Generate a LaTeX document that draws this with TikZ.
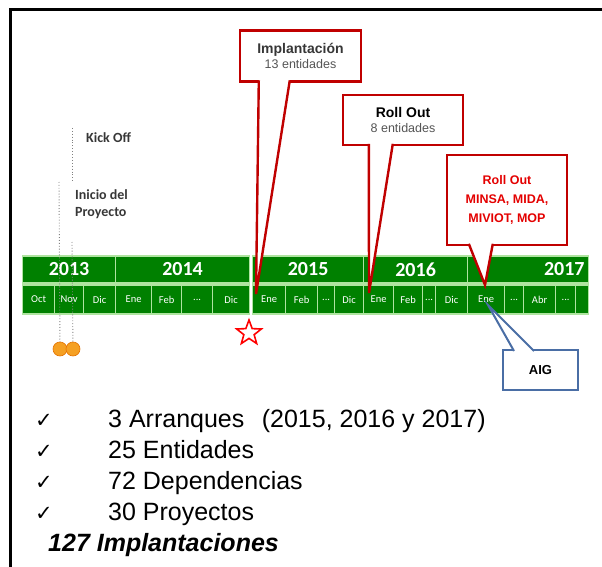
\documentclass[tikz,border=0pt]{standalone}
\usepackage{fontspec}
\setmainfont{Liberation Sans}
\newfontfamily\carlito{Carlito}
\newfontfamily\dejavu{DejaVu Sans}
\usetikzlibrary{shapes.geometric}

\definecolor{barGreen}{RGB}{0,128,0}
\definecolor{cellLine}{RGB}{175,228,160}
\definecolor{calloutRed}{RGB}{192,0,0}
\definecolor{textRed}{RGB}{228,0,0}
\definecolor{aigBlue}{RGB}{74,110,165}
\definecolor{dotOrange}{RGB}{245,160,35}
\definecolor{darkText}{RGB}{55,55,55}
\definecolor{grayText}{RGB}{85,85,85}

\tikzstyle{yearcell}=[draw=cellLine,line width=1.2pt,fill=barGreen,text=white,inner sep=0pt,anchor=west,minimum height=27pt,font=\carlito\bfseries\fontsize{20}{20}\selectfont]
\tikzstyle{monthcell}=[yearcell,minimum height=29pt,font=\carlito\fontsize{10.5}{10.5}\selectfont]
\tikzstyle{callout}=[draw=calloutRed,line width=2.4pt,fill=white,inner sep=0pt,align=center]
\tikzstyle{pointer}=[draw=calloutRed,line width=2.4pt]
\tikzstyle{dotline}=[gray,dotted,line width=0.9pt]
\tikzstyle{milestone}=[font=\carlito\bfseries\fontsize{14}{17}\selectfont,text=darkText,anchor=west,align=left,inner sep=0pt]
\tikzstyle{tick}=[font=\dejavu\fontsize{21}{21}\selectfont,anchor=base west,inner sep=0pt]
\tikzstyle{item}=[font=\fontsize{25}{25}\selectfont,anchor=base west,inner sep=0pt]

\begin{document}
\begin{tikzpicture}[x=1pt,y=-1pt]
\useasboundingbox (0,0) rectangle (602,567);
% frame
\draw[line width=3pt] (602,9.5) -- (10.5,9.5) -- (10.5,567);
% 2013
\node[yearcell,minimum width=93pt] (y2013) at (22,269.5) {2013};
\node[monthcell,minimum width=32pt] (oct13) at (22,299.5) {Oct};
\node[monthcell,minimum width=29pt] (nov13) at (54,299.5) {Nov};
\node[monthcell,minimum width=32pt] (dic13) at (83,299.5) {Dic};
% 2014
\node[yearcell,minimum width=134pt] (y2014) at (115,269.5) {2014};
\node[monthcell,minimum width=36pt] (ene14) at (115,299.5) {Ene};
\node[monthcell,minimum width=30pt] (feb14) at (151,299.5) {Feb};
\node[monthcell,minimum width=31pt] (dots14) at (181,299.5) {...};
\node[monthcell,minimum width=37pt] (dic14) at (212,299.5) {Dic};
% 2015
\node[yearcell,minimum width=111pt] (y2015) at (252,269.5) {2015};
\node[monthcell,minimum width=33pt] (ene15) at (252,299.5) {Ene};
\node[monthcell,minimum width=32pt] (feb15) at (285,299.5) {Feb};
\node[monthcell,minimum width=17pt] (dots15) at (317,299.5) {...};
\node[monthcell,minimum width=29pt] (dic15) at (334,299.5) {Dic};
% 2016
\node[yearcell,minimum width=104pt] (y2016) at (363,269.5) {2016};
\node[monthcell,minimum width=30pt] (ene16) at (363,299.5) {Ene};
\node[monthcell,minimum width=29pt] (feb16) at (393,299.5) {Feb};
\node[monthcell,minimum width=13pt] (dots16) at (422,299.5) {...};
\node[monthcell,minimum width=32pt] (dic16) at (435,299.5) {Dic};
% 2017
\node[yearcell,minimum width=121pt,text width=113pt,align=right] (y2017) at (467,269.5) {2017};
\node[monthcell,minimum width=37pt] (ene17) at (467,299.5) {Ene};
\node[monthcell,minimum width=19pt] (dots17a) at (504,299.5) {...};
\node[monthcell,minimum width=32pt] (abr17) at (523,299.5) {Abr};
\node[monthcell,minimum width=20pt] (dots17b) at (555,299.5) {...};
\node[monthcell,minimum width=13pt] (more17) at (575,299.5) {};
% kick off and project start
\node[milestone] (kick) at (86,138) {Kick Off};
\node[milestone] (inicio) at (75,204) {Inicio del\\Proyecto};
\coordinate (kick_top) at (72,128);
\coordinate (kick_gap1) at (72,182);
\coordinate (kick_gap2) at (72,242);
\coordinate (inicio_top) at (59,182);
\coordinate (kick_pos) at (73,349);
\coordinate (inicio_pos) at (60,349);
\draw[dotline] (kick_top) -- (kick_gap1);
\draw[dotline] (kick_gap2) -- (kick_pos);
\draw[dotline] (inicio_top) -- (inicio_pos);
\node[circle,fill=dotOrange,draw=orange!90!black,line width=0.6pt,minimum size=14pt,inner sep=0pt] (inicio_dot) at (inicio_pos) {};
\node[circle,fill=dotOrange,draw=orange!90!black,line width=0.6pt,minimum size=14pt,inner sep=0pt] (kick_dot) at (kick_pos) {};
% star
\node[star,star points=5,star point ratio=2.4,draw=red,fill=white,line width=1.6pt,minimum size=26pt,inner sep=0pt] (star15) at (249,333) {};
% callout Implantacion
\node[callout,minimum width=121pt,minimum height=51pt] (impl) at (300.5,56)
    {{\bfseries\fontsize{14}{18}\selectfont\color{darkText}Implantación}\\[3pt]
     {\fontsize{12.5}{14}\selectfont\color{grayText}13 entidades}};
\coordinate (impl_tip) at (256,294);
\fill[white] ([xshift=20pt,yshift=3pt]impl.south west) -- (impl_tip) -- ([xshift=51pt,yshift=3pt]impl.south west) -- cycle;
\draw[pointer] ([xshift=20pt,yshift=2.4pt]impl.south west) -- (impl_tip) -- ([xshift=51pt,yshift=2.4pt]impl.south west);
% callout Roll Out 2016
\node[callout,minimum width=120pt,minimum height=50pt] (roll1) at (403,120)
    {{\bfseries\fontsize{14}{18}\selectfont Roll Out}\\[3pt]
     {\fontsize{12.5}{14}\selectfont\color{grayText}8 entidades}};
\coordinate (roll1_tip) at (369,293);
\fill[white] ([xshift=27pt,yshift=3pt]roll1.south west) -- (roll1_tip) -- ([xshift=51pt,yshift=3pt]roll1.south west) -- cycle;
\draw[pointer] ([xshift=27pt,yshift=2.4pt]roll1.south west) -- (roll1_tip) -- ([xshift=51pt,yshift=2.4pt]roll1.south west);
% callout Roll Out 2017
\node[callout,minimum width=120pt,minimum height=90pt,text=textRed,font=\bfseries\fontsize{12.5}{19}\selectfont] (roll2) at (507,200)
    {Roll Out\\MINSA, MIDA,\\MIVIOT, MOP};
\coordinate (roll2_tip) at (485,285);
\fill[white] ([xshift=23pt,yshift=3pt]roll2.south west) -- (roll2_tip) -- ([xshift=47pt,yshift=3pt]roll2.south west) -- cycle;
\draw[pointer] ([xshift=23pt,yshift=2.4pt]roll2.south west) -- (roll2_tip) -- ([xshift=47pt,yshift=2.4pt]roll2.south west);
% callout AIG
\node[callout,draw=aigBlue,line width=2pt,minimum width=75pt,minimum height=40pt,font=\bfseries\fontsize{13}{15}\selectfont] (aig) at (540.5,370) {AIG};
\coordinate (aig_tip) at (488,305);
\fill[white] ([xshift=12pt,yshift=-3pt]aig.north west) -- (aig_tip) -- ([xshift=32pt,yshift=-3pt]aig.north west) -- cycle;
\draw[pointer,draw=aigBlue,line width=2pt] ([xshift=12pt,yshift=-2pt]aig.north west) -- (aig_tip) -- ([xshift=32pt,yshift=-2pt]aig.north west);
% summary
\node[tick] (tick1) at (35,427) {✓};
\node[item] (item1) at (108,427) {3 Arranques\hspace{0.7em}(2015, 2016 y 2017)};
\node[tick] (tick2) at (35,458) {✓};
\node[item] (item2) at (108,458) {25 Entidades};
\node[tick] (tick3) at (35,489) {✓};
\node[item] (item3) at (108,489) {72 Dependencias};
\node[tick] (tick4) at (35,520) {✓};
\node[item] (item4) at (108,520) {30 Proyectos};
\node[item,font=\bfseries\itshape\fontsize{25}{25}\selectfont] (total) at (48,551) {127 Implantaciones};
\end{tikzpicture}
\end{document}
